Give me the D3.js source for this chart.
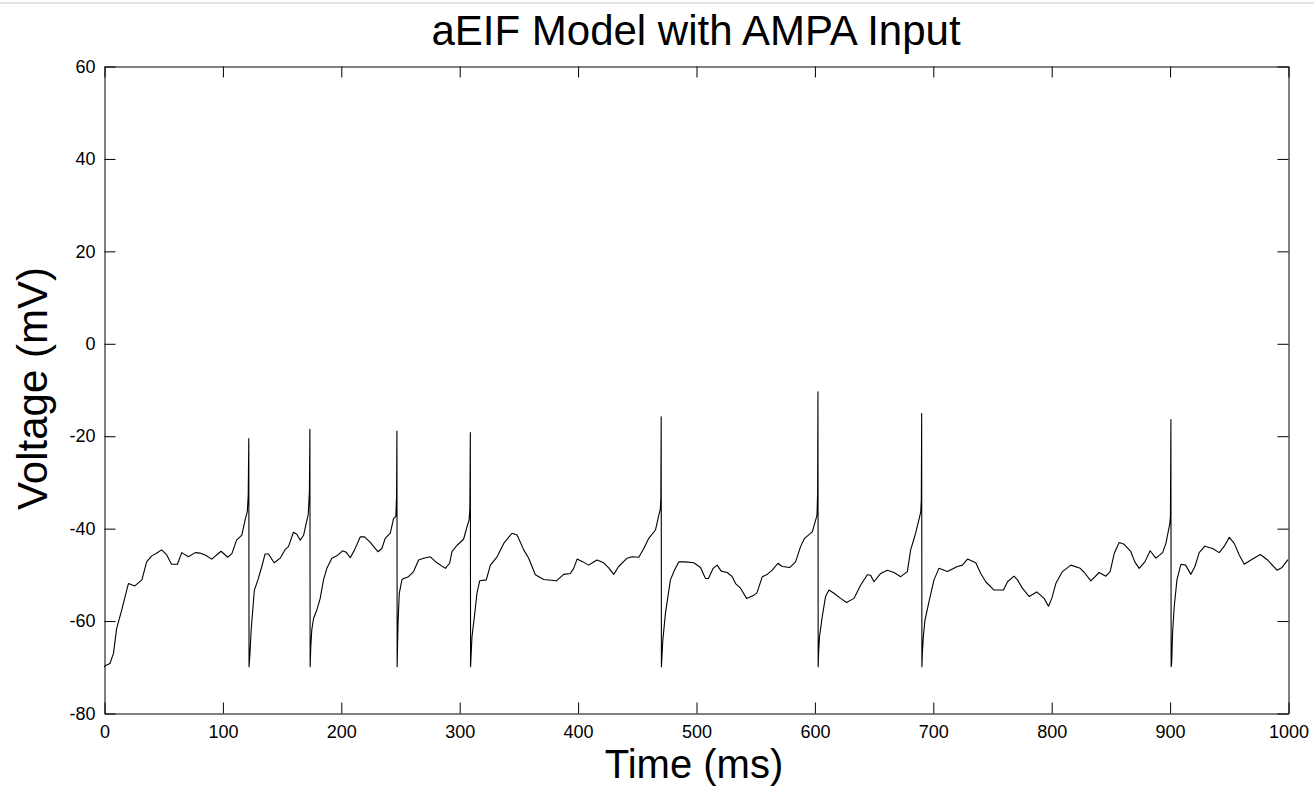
<!DOCTYPE html>
<html>
<head>
<meta charset="utf-8">
<script src="https://cdn.jsdelivr.net/npm/d3@7"></script>
<style>
  html, body { margin: 0; padding: 0; background: #fff; }
  svg { display: block; font-family: "Liberation Sans", Arial, sans-serif; }
</style>
</head>
<body>
<div id="chart"></div>
<script>
// aEIF membrane trace

const chartTitle = "aEIF Model with AMPA Input";
const xLabel = "Time (ms)";
const yLabel = "Voltage (mV)";

const xTicks = [0, 100, 200, 300, 400, 500, 600, 700, 800, 900, 1000];
const yTicks = [-80, -60, -40, -20, 0, 20, 40, 60];

const timeMs = [
  0, 1, 5, 8, 10.7, 15, 20.6, 26, 32, 36, 40.3, 44, 48.7, 53, 57, 62, 65.7, 71.3, 77, 81,
  85.4, 91, 98.9, 104.5, 108, 112, 116.4, 119.2, 121, 121.8, 122.3, 122.5, 123.2, 124.3,
  127, 130, 133.3, 136, 138.9, 143.7, 148.8, 153, 155.8, 160, 162.9, 165.7, 168.5, 170.5,
  172.5, 173.5, 173.9, 174.1, 174.6, 175.5, 177, 179.8, 182.6, 185.4, 188.2, 192.5, 196.7,
  201.5, 204.5, 208, 211.6, 216.4, 220, 224.9, 231.3, 234.7, 237.5, 241.8, 244.6, 246.5,
  247.1, 247.4, 247.6, 247.9, 248.4, 249.4, 251.6, 253, 257.2, 261.5, 265.7, 270, 275.6,
  281.2, 288.3, 291.9, 293.9, 298.2, 303.7, 306.6, 308.4, 309, 309.4, 309.6, 310, 310.8,
  312.8, 315, 317.3, 322.9, 326.3, 332, 337.6, 344.6, 348.9, 354.5, 358.7, 364.3, 371.4,
  382.1, 388.3, 393.9, 396.7, 399.6, 404.6, 409.4, 412.5, 416.4, 422, 426.3, 430.5, 434.7,
  441.8, 446, 451.7, 455.9, 460.1, 465.8, 468.6, 469.8, 470.3, 470.6, 470.8, 471.3, 472,
  474.2, 478.4, 481.8, 485.5, 491, 498.1, 503.8, 508, 510.5, 514.5, 517.9, 521.3, 526.4,
  530.6, 533.4, 537.6, 542.7, 548.9, 551.5, 556, 559.6, 564.4, 569.2, 572.8, 579.3, 584.1,
  588.3, 591.7, 598.2, 601, 602.2, 602.7, 603, 603.2, 603.6, 604.3, 606.6, 609.4, 612.3,
  616.5, 622.1, 627.2, 633.4, 639.1, 644.7, 647.5, 650.3, 656, 661.6, 667.2, 672.9, 678.5,
  681.3, 685.5, 688.9, 689.8, 690.3, 690.6, 690.8, 691.2, 692, 693.4, 696.8, 701, 705.2,
  712.3, 720.8, 725, 729.3, 736.3, 740.5, 744.7, 751.7, 759.7, 763.1, 768.6, 771.5, 775.7,
  781.4, 787.8, 794, 797.7, 800.5, 803.9, 809.5, 816.6, 824.5, 828, 833.5, 840.5, 846.2,
  849.8, 853.2, 857.4, 861.6, 867.3, 870.6, 874.3, 879.1, 883.6, 888.4, 894.1, 896.9, 898.8,
  900.2, 900.7, 901.1, 901.3, 901.8, 902.5, 903.9, 906.2, 909.6, 913.5, 918, 921.4, 925,
  929.8, 936.3, 941.9, 946.2, 950.4, 954.6, 958.8, 963.1, 968.7, 976.6, 982.8, 990.7, 995, 1000
];

const voltageMv = [
  -70, -69.8, -69.3, -67.1, -61.7, -57.7, -52, -52.5, -51.2, -47.3, -46, -45.5, -44.7, -45.8, -47.8, -47.8, -45.3, -46.2, -45.3, -45.4,
  -45.8, -46.7, -45, -46.3, -45.5, -42.6, -41.5, -38.2, -36.5, -33, -20.6, -70, -67.5, -62,
  -53.4, -51.2, -48.3, -45.6, -45.6, -47.5, -46.5, -44.6, -44, -40.9, -41.3, -42.6, -41.6, -39.3,
  -37, -32, -18.6, -70, -66, -62, -59.5, -57.7, -55.2, -51.2, -48.7, -46.5, -46,
  -44.9, -45.2, -46.4, -44.7, -41.9, -41.9, -43.1, -45.1, -44.4, -42.2, -41.1, -37.9, -37.5,
  -33.2, -19, -70, -65.7, -60.2, -54.1, -51.2, -50.9, -50.5, -49.4, -46.9, -46.5, -46.2,
  -47.5, -48.7, -47.6, -45.1, -43.7, -42.4, -39.7, -38.2, -35.7, -19.3, -70, -67.8, -63.5,
  -59.2, -54.1, -51.4, -51.2, -48, -46.2, -43.3, -41.1, -41.5, -44.7, -46.5, -50.1, -51.1,
  -51.4, -50, -49.8, -48.7, -46.7, -47.3, -48, -47.5, -46.9, -47.5, -48.6, -50, -48.3,
  -46.5, -46.2, -46.3, -44.4, -42.2, -40.4, -37.2, -36, -33.5, -15.9, -70, -67.5, -64.2,
  -58.4, -51.2, -49.1, -47.3, -47.3, -47.5, -48.5, -50.9, -50.9, -48.7, -48, -49.3, -49.6,
  -50.5, -52, -53, -55.2, -54.5, -54, -50.5, -50.1, -49.1, -47.6, -48.3, -48.5, -47.3,
  -44, -42.2, -40.8, -38.3, -37.2, -32.5, -10.5, -70, -66.7, -63.5, -59.2, -54.8, -53.4,
  -54.1, -55.2, -56.1, -55.2, -52.3, -50.1, -50.2, -51.6, -49.8, -49.1, -49.6, -50.5, -49.4,
  -44.7, -41.1, -37.5, -36.5, -33.9, -15.2, -70, -67.1, -63.5, -59.9, -55.9, -51.2, -48.7,
  -49.4, -48.3, -48, -46.7, -47.5, -49.8, -51.6, -53.4, -53.4, -51.6, -50.4, -51.2, -53,
  -54.8, -53.8, -55.2, -56.9, -55.2, -52, -49.4, -48, -48.7, -49.6, -51.4, -49.6, -50.4,
  -49.4, -45.5, -43.1, -43.5, -45.1, -47.3, -48.7, -47.3, -44.9, -46.5, -45.3, -43.3, -40.8,
  -39, -37.4, -16.5, -70, -69, -62.7, -57, -51.2, -47.8, -48, -50, -48.3, -45.3,
  -43.9, -44.4, -45.3, -43.9, -42, -43.3, -45.8, -47.8, -46.9, -45.7, -46.9, -49.1, -48.5, -46.8
];

const trace = timeMs.map((t, i) => ({ t: t, v: voltageMv[i] }));

const W = 1314, H = 793;
const plot = { left: 104, right: 1288, top: 66, bottom: 713 };

const svg = d3.select("#chart")
  .append("svg")
  .attr("width", W)
  .attr("height", H);

// thin grey strip along the top of the figure
svg.append("rect")
  .attr("x", 0).attr("y", 2)
  .attr("width", W).attr("height", 2)
  .attr("fill", "#e3e3e3");

const x = d3.scaleLinear().domain([0, 1000]).range([plot.left, plot.right]);
const y = d3.scaleLinear().domain([-80, 60]).range([plot.bottom, plot.top]);

const tickLen = 11;
// plain hyphen minus, no thousands comma (matlab style)
const plainFmt = d => String(d);

// bottom axis with labels, ticks pointing in
const gx = svg.append("g")
  .attr("transform", `translate(0.5,${plot.bottom + 0.5})`)
  .call(d3.axisBottom(x).tickValues(xTicks).tickFormat(plainFmt)
    .tickSizeInner(-tickLen).tickSizeOuter(0).tickPadding(12));

const gy = svg.append("g")
  .attr("transform", `translate(${plot.left + 0.5},0.5)`)
  .call(d3.axisLeft(y).tickValues(yTicks).tickFormat(plainFmt)
    .tickSizeInner(-tickLen).tickSizeOuter(0).tickPadding(9));

// top and right: ticks only
const gxTop = svg.append("g")
  .attr("transform", `translate(0.5,${plot.top + 0.5})`)
  .call(d3.axisTop(x).tickValues(xTicks).tickSizeInner(-tickLen).tickSizeOuter(0).tickFormat(""));

const gyRight = svg.append("g")
  .attr("transform", `translate(${plot.right + 0.5},0.5)`)
  .call(d3.axisRight(y).tickValues(yTicks).tickSizeInner(-tickLen).tickSizeOuter(0).tickFormat(""));

[gx, gy, gxTop, gyRight].forEach(g => {
  g.selectAll("path.domain").attr("stroke", "#000").attr("stroke-width", 1);
  g.selectAll(".tick line").attr("stroke", "#000");
  g.selectAll(".tick text")
    .attr("fill", "#000")
    .style("font-size", "18px")
    .style("font-family", "'Liberation Sans', Arial, sans-serif");
});

// the voltage trace
const line = d3.line()
  .x(d => x(d.t))
  .y(d => y(d.v));

svg.append("path")
  .datum(trace)
  .attr("d", line)
  .attr("fill", "none")
  .attr("stroke", "#000")
  .attr("stroke-width", 1.1)
  .attr("stroke-linejoin", "round");

// title + axis labels
svg.append("text")
  .attr("x", (plot.left + plot.right) / 2)
  .attr("y", 45)
  .attr("text-anchor", "middle")
  .attr("font-size", "42px")
  .attr("fill", "#000")
  .text(chartTitle);

svg.append("text")
  .attr("x", (plot.left + plot.right) / 2 - 2)
  .attr("y", 778)
  .attr("text-anchor", "middle")
  .attr("font-size", "40px")
  .attr("fill", "#000")
  .text(xLabel);

svg.append("text")
  .attr("transform", `translate(47,${(plot.top + plot.bottom) / 2 - 1}) rotate(-90)`)
  .attr("text-anchor", "middle")
  .attr("font-size", "42px")
  .attr("fill", "#000")
  .text(yLabel);
</script>
</body>
</html>
